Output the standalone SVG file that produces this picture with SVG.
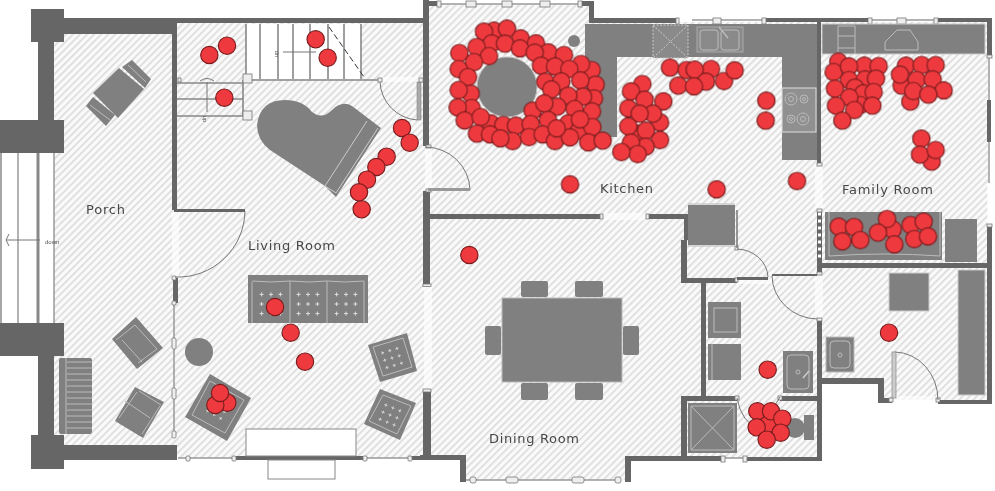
<svg xmlns="http://www.w3.org/2000/svg" width="995" height="491" viewBox="0 0 995 491">
<style>
.w{fill:#666}
.f{fill:#808080}
.o{fill:#fff}
.l{fill:none;stroke:#999;stroke-width:1.5}
.d{fill:none;stroke:#777;stroke-width:1}
.g{fill:none;stroke:#888;stroke-width:1.6}
.i{fill:none;stroke:#bbb;stroke-width:1}
.n{fill:#eee;stroke:#777;stroke-width:.8}
.r circle{fill:#ee3a3e;stroke:#7a1c1e;r:26px;stroke-width:3.5px}
.t{font-family:"DejaVu Sans","Liberation Sans",sans-serif;font-size:13px;fill:#484848}
.s{font-family:"Liberation Sans",sans-serif;font-size:6px;fill:#555}
</style>
<defs>
<pattern id="h" width="5" height="5" patternUnits="userSpaceOnUse" patternTransform="rotate(45)"><rect width="5" height="5" fill="#fafafa"/><rect width="1.7" height="5" fill="#dcdcdc"/></pattern>
<filter id="b" x="-2%" y="-2%" width="104%" height="104%"><feGaussianBlur stdDeviation="0.35"/></filter>
<path id="p" d="M-2,0H2M0,-2V2" stroke="#ddd" stroke-width="1" fill="none"/>
<g id="p9"><use href="#p" x="-9.4" y="-9.6"/><use href="#p" y="-9.6"/><use href="#p" x="9.4" y="-9.6"/><use href="#p" x="-9.4"/><use href="#p"/><use href="#p" x="9.4"/><use href="#p" x="-9.4" y="9.6"/><use href="#p" y="9.6"/><use href="#p" x="9.4" y="9.6"/></g>
</defs>
<rect width="995" height="491" fill="#fff"/>
<g id="plan" filter="url(#b)">
<g id="floor">
<path fill="url(#h)" d="M54,34H174V22H425V5H590V22H988V400H884V382H820V458H627V480H465V458H176V445H54Z"/>
<rect x="246" y="24" width="115" height="55" fill="#fff"/>
<path class="o" d="M172,212h7v65h-7zM425,147h7v43h-7zM424,285h8v105h-8zM600,213h46v7h-46zM815,165h8v45h-8zM815,273h8v47h-8zM381,77h40v5h-40zM892,396h46v7h-46zM987,184h5v42h-5zM737,278h35v6h-35z" opacity=".6"/>
</g>
<g id="walls">
<path class="w" d="M31,9H64V18H177V34H64V42H54V120H64V153H0V120H38V42H31Z"/>
<path class="w" d="M0,323H64V356H54V435H64V445H177V460H64V469H31V435H38V356H0Z"/>
<rect class="w" x="172" y="24" width="5" height="186"/><rect class="w" x="64" y="18" width="361" height="5"/>
<rect class="w" x="174" y="209" width="71" height="3"/>
<rect class="w" x="173" y="278" width="5" height="25"/>
<rect class="w" x="423" y="0" width="6" height="146"/><rect class="w" x="423" y="191" width="7" height="94"/>
<rect class="w" x="423" y="390" width="8" height="68"/>
<rect class="w" x="423" y="1" width="14" height="5"/><rect class="w" x="580" y="1" width="13" height="5"/><rect class="w" x="589" y="1" width="5" height="22"/>
<rect class="w" x="589" y="18" width="87" height="5"/><rect class="w" x="764" y="18" width="106" height="4"/><rect class="w" x="936" y="18" width="56" height="4"/>
<rect class="w" x="987" y="18" width="5" height="37"/><rect class="w" x="987" y="226" width="5" height="178"/>
<rect class="w" x="428" y="214" width="172" height="5"/><rect class="w" x="646" y="214" width="40" height="5"/>
<rect class="w" x="684" y="214" width="7" height="26"/><rect class="w" x="681" y="240" width="6" height="43"/>
<rect class="w" x="681" y="278" width="56" height="5"/><rect class="w" x="701" y="283" width="5" height="114"/>
<rect class="w" x="681" y="396" width="56" height="5"/><rect class="w" x="681" y="396" width="6" height="64"/><rect class="w" x="780" y="396" width="37" height="5"/>
<rect class="w" x="420" y="455" width="46" height="5"/><rect class="w" x="460" y="455" width="6" height="27"/><rect class="w" x="625" y="456" width="6" height="26"/><rect class="w" x="625" y="456" width="98" height="5"/><rect class="w" x="745" y="457" width="77" height="4"/>
<rect class="w" x="817" y="320" width="5" height="141"/><rect class="w" x="817" y="22" width="4" height="143"/>
<rect class="w" x="817" y="210" width="5" height="63"/><path d="M818,214h3M818,221h3M818,228h3M818,235h3M818,242h3M818,249h3M818,256h3" stroke="#fff" stroke-width="3"/>
<rect class="w" x="820" y="263" width="172" height="5"/>
<rect class="w" x="822" y="378" width="61" height="6"/><rect class="w" x="878" y="378" width="6" height="24"/><rect class="w" x="878" y="398" width="14" height="5"/><rect class="w" x="938" y="400" width="54" height="4"/>
<rect class="w" x="235" y="456" width="128" height="4"/><rect class="w" x="410" y="456" width="15" height="4"/>
</g>
<g id="windows">
<path class="l" d="M174,303V435M178,458H235M363,458H410M437,4H580M466,480H620M692,20H764M870,20H936M989,58V183M723,458H745"/>
<rect class="w" x="987" y="100" width="4" height="42"/>
<rect class="n" x="172" y="276" width="4" height="4" rx="1"/><rect class="n" x="172" y="301" width="4" height="4" rx="1"/>
<rect class="n" x="172" y="338" width="4" height="11" rx="1.500"/><rect class="n" x="172" y="388" width="4" height="11" rx="1.500"/><rect class="n" x="172" y="431" width="4" height="7" rx="1.500"/>
<rect class="n" x="186" y="456" width="4" height="5" rx="1"/><rect class="n" x="232" y="456" width="4" height="5" rx="1"/><rect class="n" x="363" y="456" width="4" height="5" rx="1"/><rect class="n" x="408" y="456" width="4" height="5" rx="1"/>
<rect class="n" x="437" y="1" width="4" height="6"/><rect class="n" x="466" y="1" width="10" height="6"/><rect class="n" x="502" y="1" width="10" height="6"/><rect class="n" x="540" y="1" width="10" height="6"/><rect class="n" x="578" y="1" width="4" height="6"/>
<rect class="n" x="676" y="18" width="3" height="6"/><rect class="n" x="713" y="18" width="8" height="6"/><rect class="n" x="762" y="18" width="4" height="6"/><rect class="n" x="868" y="18" width="4" height="6"/><rect class="n" x="897" y="18" width="9" height="6"/><rect class="n" x="934" y="18" width="4" height="6"/>
<rect class="n" x="470" y="477" width="6" height="6" rx="2"/><rect class="n" x="506" y="477" width="12" height="6" rx="2"/><rect class="n" x="572" y="477" width="12" height="6" rx="2"/><rect class="n" x="615" y="477" width="6" height="6" rx="2"/>
<rect class="n" x="721" y="456" width="4" height="6"/><rect class="n" x="743" y="456" width="4" height="6"/>
<rect class="n" x="426" y="145" width="5" height="3"/><rect class="n" x="426" y="189" width="5" height="3"/><rect class="n" x="423" y="284" width="8" height="2.500"/><rect class="n" x="423" y="389" width="8" height="3"/>
<rect class="n" x="817" y="163" width="5" height="3"/><rect class="n" x="817" y="209" width="5" height="3"/><rect class="n" x="817" y="272" width="5" height="3"/><rect class="n" x="817" y="318" width="5" height="3"/>
<rect class="n" x="600" y="214" width="3" height="5"/><rect class="n" x="646" y="214" width="3" height="5"/>
<rect class="n" x="987" y="224" width="5" height="3"/><rect class="n" x="987" y="55" width="5" height="3"/>
<rect class="n" x="735" y="246" width="3" height="4"/><rect class="n" x="735" y="278" width="3" height="4"/><rect class="n" x="735" y="396" width="4" height="4"/><rect class="n" x="778" y="396" width="4" height="4"/><rect class="n" x="889" y="398" width="4" height="4"/><rect class="n" x="936" y="398" width="4" height="4"/>
</g>
<g id="doors">
<path class="d" d="M245,211A67,67 0 0 1 175,277M380,82A40,40 0 0 0 417,120M425,147A45,44 0 0 1 470,190M737,249A32,29 0 0 1 768,277M772,276A46,44 0 0 0 817,319M895,352A44,48 0 0 1 938,400M737,398Q741,422 760,430M780,397L772,410"/>
<rect x="417" y="82" width="4" height="38" fill="#aaa" stroke="#777" stroke-width=".5"/>
<rect x="428" y="188" width="42" height="3" fill="#999"/>
<rect x="737" y="277" width="31" height="3" class="w"/>
<rect x="772" y="274" width="45" height="2" class="w"/>
<rect x="892" y="352" width="4" height="46" fill="#ccc" stroke="#888" stroke-width=".7"/>
</g>
<g id="stairs">
<path class="g" d="M246,24V79M260,24V79M278,24V79M293,24V79M310,24V79M328,24V79M344,24V79M361,24V79M246,80H378M177,83H243M177,99H243M177,116H243M243,80V116"/>
<path d="M18,153V323M54,153V323" stroke="#999" stroke-width="1.500"/><path d="M38,153V323" stroke="#888" stroke-width="3"/><path d="M1,153V323" stroke="#888" stroke-width="1.500"/>
<path d="M329,27L364,77" stroke="#333" stroke-width="1" stroke-dasharray="6 3"/>
<rect class="n" x="243" y="74" width="9" height="9"/><rect class="n" x="243" y="111" width="9" height="9"/><rect class="n" x="178" y="78" width="3" height="4"/><rect class="n" x="378" y="78" width="4" height="4"/><rect class="n" x="419" y="78" width="4" height="4"/>
<path class="d" d="M316,52H283M207,82V112M200,81Q207,76 214,81M6,240H40M6,240L9,234M6,240L9,246"/>
<text class="s" transform="translate(278,54) rotate(-90)" text-anchor="middle" font-size="5">up</text>
<text class="s" transform="translate(206,119) rotate(-90)" text-anchor="middle" font-size="5">dn</text>
<text class="s" x="45" y="244">down</text>
</g>
<g id="porch-furniture">
<path class="f" d="M119,68L144,89L118,118L93,93Z"/>
<path class="f" d="M132,60L151,79L145,88L122,67Z"/><path class="f" d="M86,106L93,97L115,115L106,126Z"/>
<path class="i" d="M128,65L146,82M90,105L110,120"/>
<path class="f" d="M136,317L163,348L137,369L112,339Z"/><path class="i" d="M116,340L135,325M135,325L157,349M157,349L138,363M122,340L142,362"/>
<path class="f" d="M135,387L164,402L143,438L115,421Z"/><path class="i" d="M119,418L137,392M139,391L161,405M160,406L142,434M125,401L150,418"/>
<rect class="f" x="59" y="358" width="33" height="76" rx="2"/><path class="i" d="M66,358V434M67,362H92M67,368H92M67,374H92M67,380H92M67,386H92M67,392H92M67,398H92M67,404H92M67,410H92M67,416H92M67,422H92M67,428H92"/>
</g>
<g id="living-furniture">
<path class="f" d="M325,186L270,150Q257,140 257,125Q260,100 285,100Q303,100 312,112Q322,120 332,110Q342,100 352,106L381,128L336,197Z"/>
<path fill="none" stroke="#ccc" stroke-width="1" d="M367,121L325,186L336,193L378,128"/>
<circle class="f" cx="199" cy="352" r="14"/>
<rect class="f" x="248" y="275" width="120" height="48"/>
<path class="i" d="M252,282V323M290,281V323M327,281V323M364,281V323M252,281Q270,283 290,281Q310,283 327,281Q345,283 364,281"/>
<use href="#p9" x="271" y="304"/><use href="#p9" x="308" y="304"/><use href="#p9" x="346" y="304"/>
<path class="f" d="M210,374L251,398L227,441L185,417Z"/><path class="i" d="M210,381L244,400L225,433L192,415Z"/>
<use href="#p9" transform="translate(218,408) rotate(30) scale(.8)"/>
<path class="f" d="M368,345L407,333L417,371L380,382Z"/><path class="i" d="M373,347L403,338L412,367L383,376Z"/>
<use href="#p9" transform="translate(392,358) rotate(-17) scale(.8)"/>
<path class="f" d="M380,389L416,403L400,440L364,424Z"/><path class="i" d="M383,395L411,406L397,434L369,421Z"/>
<use href="#p9" transform="translate(390,415) rotate(22) scale(.8)"/>
<rect x="246" y="429" width="110" height="27" fill="#fff" stroke="#888" stroke-width="1"/>
<rect x="268" y="460" width="67" height="19" fill="#fff" stroke="#888" stroke-width="1"/>
</g>
<g id="kitchen">
<path class="f" d="M585,24H817V160H782V57H617V137H585Z"/>
<circle class="f" cx="507" cy="87" r="30" stroke="#bbb"/>
<circle class="f" cx="574" cy="41" r="6"/>
<rect x="653" y="25" width="35" height="33" fill="#8a8a8a"/><path d="M653,25H688V58H653ZM653,25L688,58M688,25L653,58" fill="none" stroke="#ccc" stroke-width="1" stroke-dasharray="2 1.500"/>
<rect x="697" y="27" width="46" height="25" fill="#8a8a8a" stroke="#aaa"/><rect class="i" x="700" y="30" width="18" height="20" rx="3"/><rect class="i" x="721" y="30" width="18" height="20" rx="3"/>
<path d="M719,27L728,38" stroke="#bbb" stroke-width="1.500"/>
<rect x="782" y="88" width="34" height="44" fill="#909090" stroke="#ddd"/>
<g class="i"><circle cx="791" cy="99" r="6"/><circle cx="791" cy="99" r="2.500"/><circle cx="804" cy="99" r="4"/><circle cx="804" cy="99" r="1.500"/><circle cx="791" cy="119" r="4"/><circle cx="791" cy="119" r="1.500"/><circle cx="803" cy="119" r="6"/><circle cx="803" cy="119" r="2.500"/></g>
<rect class="f" x="688" y="205" width="47" height="40"/><path d="M737,210V248" stroke="#777" stroke-width="1.500"/>
<path d="M688,204H735M688,246H735" stroke="#ccc" stroke-width="1.500"/>
</g>
<g id="family-furniture">
<rect class="f" x="822" y="24" width="163" height="30" stroke="#ccc"/>
<path class="i" d="M838,54V26H855V54M838,36H855M838,48H855M885,50V42L897,30H910L918,42V50Z"/>
<rect class="f" x="825" y="212" width="117" height="48"/><path class="i" d="M829,212V256Q885,252 940,256V212"/>
<rect class="f" x="945" y="219" width="32" height="43"/>
<rect class="f" x="889" y="273" width="40" height="38" stroke="#ccc"/>
<rect class="f" x="958" y="270" width="27" height="125" stroke="#ccc"/>
<rect class="f" x="826" y="337" width="28" height="35" stroke="#bbb"/><rect class="i" x="830" y="341" width="20" height="27" rx="4"/><circle class="i" cx="840" cy="355" r="2"/>
</g>
<g id="laundry-bath">
<rect class="f" x="708" y="302" width="33" height="36"/><rect class="i" x="714" y="308" width="23" height="24"/>
<rect class="f" x="708" y="344" width="33" height="36"/><path class="i" d="M712,344V380"/>
<rect class="f" x="783" y="351" width="30" height="42"/><rect class="i" x="787" y="355" width="22" height="34" rx="4"/><circle class="i" cx="798" cy="372" r="2"/><path d="M803,378L809,371" stroke="#ccc" stroke-width="1.500"/>
<rect class="f" x="688" y="403" width="49" height="50"/><path class="i" d="M691,406H734V450H691ZM691,406L734,450M734,406L691,450"/>
<rect class="f" x="804" y="415" width="10" height="25"/><circle class="f" cx="795" cy="428" r="10"/>
</g>
<g id="dining">
<rect class="f" x="502" y="298" width="120" height="84" stroke="#bbb"/>
<rect class="f" x="521" y="281" width="27" height="16" rx="2"/><rect class="f" x="575" y="281" width="28" height="16" rx="2"/>
<rect class="f" x="521" y="383" width="27" height="17" rx="2"/><rect class="f" x="575" y="383" width="28" height="17" rx="2"/>
<rect class="f" x="485" y="326" width="16" height="29" rx="2"/><rect class="f" x="623" y="326" width="16" height="29" rx="2"/>
</g>
</g>
<g id="labels">
<text class="t" x="86" y="214" textLength="39" lengthAdjust="spacing">Porch</text>
<text class="t" x="248" y="250" textLength="87" lengthAdjust="spacing">Living Room</text>
<text class="t" x="600" y="193" textLength="53" lengthAdjust="spacing">Kitchen</text>
<text class="t" x="842" y="194" textLength="91" lengthAdjust="spacing">Family Room</text>
<text class="t" x="489" y="443" textLength="90" lengthAdjust="spacing">Dining Room</text>
</g>
<g id="markers" class="r">
<g transform="scale(.33333)">
<circle cx="681" cy="137" r="25"/><circle cx="628" cy="165" r="25"/><circle cx="947" cy="118" r="25"/><circle cx="983" cy="173" r="25"/><circle cx="673" cy="293" r="25"/><circle cx="1206" cy="384" r="25"/><circle cx="1229" cy="428" r="25"/><circle cx="1160" cy="470" r="25"/><circle cx="1129" cy="501" r="25"/><circle cx="1101" cy="539" r="25"/><circle cx="1077" cy="577" r="25"/><circle cx="1085" cy="628" r="25"/>
</g>
<g transform="translate(0,240) scale(.33333)">
<circle cx="825" cy="201" r="25"/><circle cx="872" cy="278" r="25"/><circle cx="915" cy="365" r="25"/><circle cx="682" cy="488" r="25"/><circle cx="646" cy="495" r="25"/><circle cx="660" cy="459" r="25"/>
</g>
<g transform="translate(420,0) scale(.33333)">
<circle cx="222" cy="92" r="25"/><circle cx="192" cy="95" r="25"/><circle cx="261" cy="86" r="25"/><circle cx="215" cy="130" r="25"/><circle cx="302" cy="115" r="25"/><circle cx="348" cy="130" r="25"/><circle cx="255" cy="131" r="25"/><circle cx="170" cy="141" r="25"/><circle cx="300" cy="145" r="25"/><circle cx="118" cy="159" r="25"/><circle cx="207" cy="168" r="25"/><circle cx="385" cy="157" r="25"/><circle cx="344" cy="158" r="25"/><circle cx="432" cy="165" r="25"/><circle cx="162" cy="186" r="25"/><circle cx="116" cy="207" r="25"/><circle cx="144" cy="231" r="25"/><circle cx="363" cy="197" r="25"/><circle cx="405" cy="199" r="25"/><circle cx="515" cy="210" r="25"/><circle cx="483" cy="192" r="25"/><circle cx="448" cy="207" r="25"/><circle cx="152" cy="281" r="25"/><circle cx="116" cy="270" r="25"/><circle cx="376" cy="245" r="25"/><circle cx="424" cy="244" r="25"/><circle cx="527" cy="254" r="25"/><circle cx="481" cy="241" r="25"/><circle cx="394" cy="268" r="25"/><circle cx="522" cy="295" r="25"/><circle cx="489" cy="290" r="25"/><circle cx="445" cy="287" r="25"/><circle cx="155" cy="324" r="25"/><circle cx="113" cy="322" r="25"/><circle cx="338" cy="332" r="25"/><circle cx="412" cy="320" r="25"/><circle cx="373" cy="310" r="25"/><circle cx="464" cy="327" r="25"/><circle cx="516" cy="334" r="25"/><circle cx="212" cy="370" r="25"/><circle cx="134" cy="361" r="25"/><circle cx="182" cy="351" r="25"/><circle cx="250" cy="375" r="25"/><circle cx="288" cy="377" r="25"/><circle cx="384" cy="360" r="25"/><circle cx="332" cy="372" r="25"/><circle cx="445" cy="370" r="25"/><circle cx="477" cy="392" r="25"/><circle cx="517" cy="381" r="25"/><circle cx="480" cy="358" r="25"/><circle cx="171" cy="401" r="25"/><circle cx="210" cy="403" r="25"/><circle cx="278" cy="423" r="25"/><circle cx="241" cy="415" r="25"/><circle cx="327" cy="411" r="25"/><circle cx="368" cy="403" r="25"/><circle cx="405" cy="423" r="25"/><circle cx="450" cy="412" r="25"/><circle cx="410" cy="385" r="25"/><circle cx="505" cy="427" r="25"/><circle cx="548" cy="422" r="25"/>
<circle cx="667" cy="252" r="25"/><circle cx="633" cy="274" r="25"/><circle cx="730" cy="304" r="25"/><circle cx="674" cy="299" r="25"/><circle cx="625" cy="325" r="25"/><circle cx="720" cy="367" r="25"/><circle cx="699" cy="341" r="25"/><circle cx="659" cy="341" r="25"/><circle cx="650" cy="400" r="25"/><circle cx="625" cy="379" r="25"/><circle cx="678" cy="392" r="25"/><circle cx="720" cy="420" r="25"/><circle cx="677" cy="440" r="25"/><circle cx="633" cy="428" r="25"/><circle cx="653" cy="462" r="25"/><circle cx="604" cy="456" r="25"/>
<circle cx="750" cy="203" r="25"/><circle cx="800" cy="210" r="25"/><circle cx="873" cy="207" r="25"/><circle cx="824" cy="209" r="25"/><circle cx="775" cy="257" r="25"/><circle cx="858" cy="245" r="25"/><circle cx="822" cy="259" r="25"/><circle cx="450" cy="553" r="25"/>
</g>
<g transform="translate(700,0) scale(.33333)">
<circle cx="72" cy="243" r="25"/><circle cx="104" cy="211" r="25"/><circle cx="199" cy="302" r="25"/><circle cx="197" cy="362" r="25"/><circle cx="291" cy="543" r="25"/><circle cx="50" cy="568" r="25"/>
<circle cx="415" cy="185" r="25"/><circle cx="493" cy="197" r="25"/><circle cx="401" cy="216" r="25"/><circle cx="447" cy="199" r="25"/><circle cx="536" cy="198" r="25"/><circle cx="447" cy="240" r="25"/><circle cx="495" cy="238" r="25"/><circle cx="528" cy="236" r="25"/><circle cx="465" cy="263" r="25"/><circle cx="490" cy="280" r="25"/><circle cx="405" cy="266" r="25"/><circle cx="521" cy="276" r="25"/><circle cx="480" cy="315" r="25"/><circle cx="448" cy="292" r="25"/><circle cx="517" cy="317" r="25"/><circle cx="463" cy="330" r="25"/><circle cx="408" cy="317" r="25"/><circle cx="427" cy="362" r="25"/>
<circle cx="618" cy="197" r="25"/><circle cx="605" cy="257" r="25"/><circle cx="665" cy="195" r="25"/><circle cx="707" cy="195" r="25"/><circle cx="600" cy="224" r="25"/><circle cx="650" cy="240" r="25"/><circle cx="698" cy="238" r="25"/><circle cx="631" cy="305" r="25"/><circle cx="640" cy="273" r="25"/><circle cx="731" cy="271" r="25"/><circle cx="685" cy="284" r="25"/>
<circle cx="664" cy="416" r="25"/><circle cx="695" cy="485" r="25"/><circle cx="660" cy="464" r="25"/><circle cx="707" cy="450" r="25"/>
<circle cx="416" cy="680" r="25"/><circle cx="462" cy="681" r="25"/><circle cx="427" cy="724" r="25"/><circle cx="481" cy="720" r="25"/><circle cx="578" cy="688" r="25"/><circle cx="561" cy="657" r="25"/><circle cx="534" cy="698" r="25"/><circle cx="583" cy="733" r="25"/><circle cx="632" cy="675" r="25"/><circle cx="671" cy="665" r="25"/><circle cx="643" cy="717" r="25"/><circle cx="684" cy="709" r="25"/>
</g>
<g transform="translate(660,240) scale(.33333)">
<circle cx="687" cy="278" r="25"/><circle cx="323" cy="389" r="25"/><circle cx="324" cy="552" r="25"/><circle cx="292" cy="514" r="25"/><circle cx="333" cy="514" r="25"/><circle cx="367" cy="536" r="25"/><circle cx="290" cy="562" r="25"/><circle cx="362" cy="578" r="25"/><circle cx="320" cy="599" r="25"/>
</g>
<g transform="translate(420,210) scale(.33333)"><circle cx="148" cy="135" r="25"/></g>
</g>
</svg>
